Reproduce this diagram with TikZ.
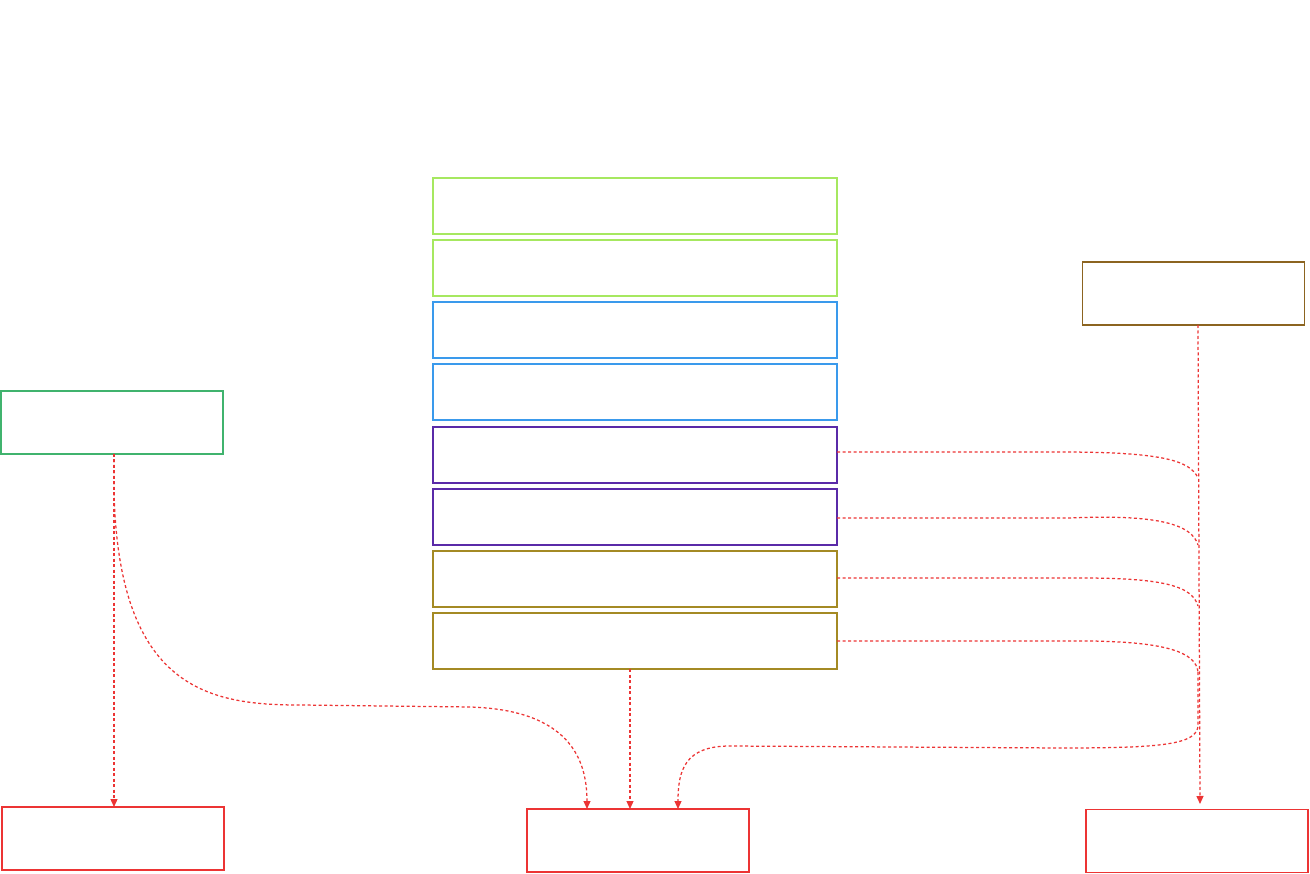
\documentclass[tikz,border=0pt]{standalone}
\usetikzlibrary{arrows.meta}
\definecolor{cgreen}{HTML}{A6E860}
\definecolor{cblue}{HTML}{3A9AEC}
\definecolor{cpurple}{HTML}{5A2AA8}
\definecolor{colive}{HTML}{A48A24}
\definecolor{cleaf}{HTML}{40B36E}
\definecolor{cbrown}{HTML}{8C6420}
\definecolor{cred}{HTML}{EC3434}
\begin{document}
\begin{tikzpicture}[x=1pt,y=-1pt,
  box/.style={draw=#1,line width=1.6pt,inner sep=0pt,outer sep=0pt,minimum width=404pt,minimum height=56pt},
  sbox/.style={draw=#1,line width=1.6pt,inner sep=0pt,outer sep=0pt,minimum width=222pt,minimum height=63pt},
  conn/.style={draw=cred,line width=1.25pt,dash pattern=on 3pt off 2.5pt},
  arr/.style={conn,-{Triangle[length=8pt,width=7pt]}}]
\useasboundingbox (0,0) rectangle (1310,874);
\node[box=cgreen] (s1) at (635,206) {};
\node[box=cgreen] (s2) at (635,268) {};
\node[box=cblue] (s3) at (635,330) {};
\node[box=cblue] (s4) at (635,392) {};
\node[box=cpurple] (s5) at (635,455) {};
\node[box=cpurple] (s6) at (635,517) {};
\node[box=colive] (s7) at (635,579) {};
\node[box=colive] (s8) at (635,641) {};
\node[sbox=cleaf] (g) at (112,422.5) {};
\node[sbox=cbrown] (b) at (1193.5,293.5) {};
\node[sbox=cred] (rl) at (113,838.5) {};
\node[sbox=cred] (rc) at (638,840.5) {};
\node[sbox=cred] (rr) at (1197,841) {};
\coordinate (gb) at (114,454);
\coordinate (bb) at (1198,325);
\coordinate (j1) at (1198,478);
\coordinate (j2) at (1198,545);
\coordinate (j3) at (1198,606);
\coordinate (j4) at (1198,672);
% left
\draw[arr] (gb) -- (gb |- rl.north);
\draw[arr] (gb) -- (114,490) .. controls (118,690) and (210,705) .. (300,705) -- (470,707) .. controls (570,710) and (587,760) .. ([xshift=-51pt]rc.north);
% center
\draw[arr] (s8.south -| 630,0) -- (630,809);
% right vertical
\draw[arr] (bb) -- (1200,804);
\draw[conn] (s5.east |- 0,452) -- (1060,452) .. controls (1160,452) and (1190,460) .. (j1);
\draw[conn] (s6.east |- 0,518) -- (1070,518) .. controls (1160,514) and (1192,525) .. (j2);
\draw[conn] (s7.east |- 0,578) -- (1080,578) .. controls (1160,578) and (1192,585) .. (j3);
\draw[conn] (s8.east |- 0,641) -- (1090,641) .. controls (1165,642) and (1196,652) .. (j4);
\draw[arr] (j4) -- (1198,725) .. controls (1198,745) and (1160,748) .. (1060,748) -- (730,746) .. controls (685,746) and (678,770) .. ([xshift=40pt]rc.north);
\end{tikzpicture}
\end{document}
